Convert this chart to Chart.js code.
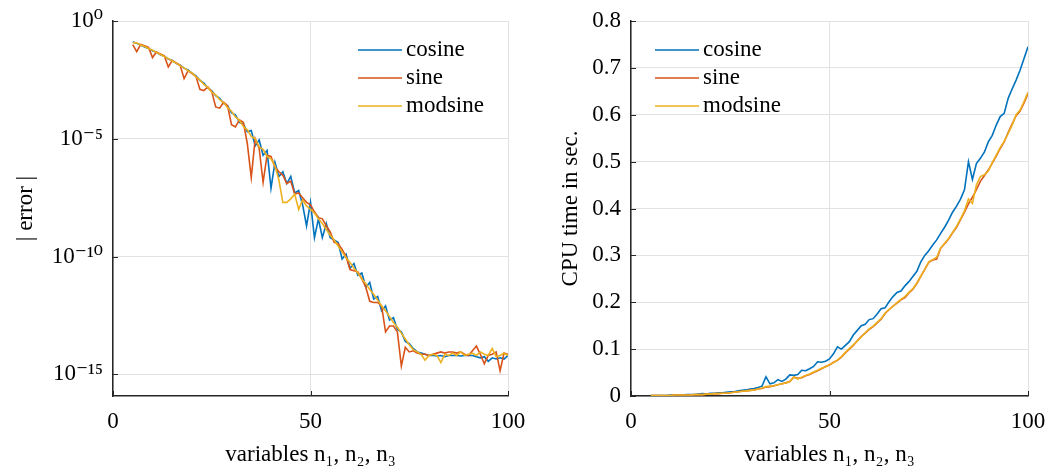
<!DOCTYPE html>
<html>
<head>
<meta charset="utf-8">
<script src="https://cdn.jsdelivr.net/npm/chart.js@4.4.1/dist/chart.umd.min.js"></script>
<style>
  body { margin: 0; background: #fff; }
  .panel { position: absolute; top: 0; width: 525px; height: 473px; }
  #left { left: 0; }
  #right { left: 525px; }
</style>
</head>
<body>
<div class="panel" id="left"><canvas id="errChart" width="525" height="473"></canvas></div>
<div class="panel" id="right"><canvas id="cpuChart" width="525" height="473"></canvas></div>
<script>
// number of variables (x axis of both plots)
const variables = [
  5, 6, 7, 8, 9, 10, 11, 12, 13, 14,
  15, 16, 17, 18, 19, 20, 21, 22, 23, 24,
  25, 26, 27, 28, 29, 30, 31, 32, 33, 34,
  35, 36, 37, 38, 39, 40, 41, 42, 43, 44,
  45, 46, 47, 48, 49, 50, 51, 52, 53, 54,
  55, 56, 57, 58, 59, 60, 61, 62, 63, 64,
  65, 66, 67, 68, 69, 70, 71, 72, 73, 74,
  75, 76, 77, 78, 79, 80, 81, 82, 83, 84,
  85, 86, 87, 88, 89, 90, 91, 92, 93, 94,
  95, 96, 97, 98, 99, 100
];
const seriesNames = ["cosine", "sine", "modsine"];

const errCosineExp = [
  -0.88, -0.95, -1.02, -1.10, -1.17, -1.26, -1.33, -1.43, -1.50, -1.61,
  -1.68, -1.80, -1.88, -2.00, -2.08, -2.22, -2.33, -2.52, -2.64, -2.84,
  -2.96, -3.17, -3.28, -3.50, -3.60, -3.90, -3.98, -4.30, -4.38, -4.70,
  -4.65, -5.30, -5.05, -5.70, -5.50, -7.10, -6.00, -6.60, -6.40, -6.90,
  -6.60, -7.30, -7.20, -7.80, -8.70, -7.70, -9.20, -8.40, -9.20, -8.60,
  -9.20, -9.30, -9.40, -10.10, -9.90, -10.50, -10.30, -10.80, -10.70, -11.30,
  -11.10, -11.80, -11.70, -12.30, -12.10, -12.70, -12.60, -13.10, -13.20, -13.60,
  -13.70, -13.90, -14.05, -14.10, -14.15, -14.20, -14.20, -14.22, -14.20, -14.25,
  -14.20, -14.20, -14.20, -14.22, -14.20, -14.20, -14.20, -14.25, -14.30, -14.25,
  -14.45, -14.30, -14.35, -14.30, -14.35, -14.20
];
const errSineExp = [
  -1.00, -1.30, -1.00, -1.05, -1.12, -1.55, -1.32, -1.40, -1.48, -1.95,
  -1.68, -1.78, -1.88, -2.45, -2.12, -2.22, -2.35, -2.90, -2.95, -2.80,
  -3.00, -3.65, -3.70, -3.45, -3.60, -4.40, -4.50, -4.20, -4.30, -5.20,
  -6.65, -5.00, -5.40, -6.85, -5.70, -5.75, -6.20, -6.40, -6.55, -6.90,
  -6.80, -7.35, -7.30, -7.50, -7.70, -7.80, -8.10, -8.35, -8.40, -8.70,
  -8.95, -9.40, -9.45, -9.70, -10.00, -10.55, -10.60, -10.65, -10.95, -11.30,
  -11.90, -11.95, -11.95, -12.10, -13.20, -12.95, -12.95, -13.20, -14.65, -13.85,
  -14.05, -14.00, -14.10, -14.15, -14.15, -14.20, -14.15, -14.10, -14.05, -14.10,
  -14.05, -14.05, -14.10, -14.05, -14.15, -14.20, -14.00, -13.80, -14.15, -14.55,
  -14.20, -14.15, -14.05, -14.85, -14.10, -14.15
];
const errModsineExp = [
  -0.92, -0.93, -1.02, -1.08, -1.17, -1.24, -1.33, -1.42, -1.51, -1.60,
  -1.70, -1.79, -1.90, -1.99, -2.11, -2.20, -2.37, -2.50, -2.69, -2.82,
  -3.02, -3.14, -3.34, -3.46, -3.68, -3.83, -4.07, -4.22, -4.48, -4.62,
  -4.90, -5.00, -5.35, -5.45, -5.75, -5.85, -6.15, -6.75, -7.70, -7.70,
  -7.55, -7.35, -8.00, -7.60, -7.85, -8.00, -8.15, -8.40, -8.60, -8.85,
  -9.10, -9.30, -9.55, -9.80, -10.05, -10.25, -10.50, -10.70, -10.95, -11.15,
  -11.40, -11.60, -11.85, -12.10, -12.30, -12.55, -12.80, -13.00, -13.25, -13.50,
  -13.75, -13.95, -14.05, -14.15, -14.40, -14.20, -14.15, -14.20, -14.50, -14.15,
  -14.20, -14.10, -14.20, -14.05, -14.20, -14.15, -14.10, -14.20, -14.05, -14.15,
  -14.20, -13.90, -14.25, -14.20, -14.10, -14.20
];

// CPU time in seconds
const cpuCosine = [
  0.001, 0.001, 0.001, 0.001, 0.001, 0.002, 0.002, 0.002, 0.002, 0.003,
  0.003, 0.003, 0.004, 0.005, 0.004, 0.006, 0.006, 0.007, 0.007, 0.008,
  0.009, 0.009, 0.011, 0.012, 0.013, 0.015, 0.016, 0.018, 0.021, 0.041,
  0.026, 0.028, 0.035, 0.031, 0.036, 0.045, 0.044, 0.046, 0.055, 0.054,
  0.058, 0.063, 0.073, 0.072, 0.074, 0.079, 0.090, 0.105, 0.100, 0.108,
  0.116, 0.130, 0.140, 0.150, 0.153, 0.163, 0.165, 0.175, 0.186, 0.188,
  0.201, 0.212, 0.221, 0.224, 0.235, 0.244, 0.255, 0.266, 0.286, 0.300,
  0.310, 0.322, 0.333, 0.347, 0.360, 0.375, 0.392, 0.405, 0.420, 0.440,
  0.500, 0.462, 0.496, 0.507, 0.520, 0.542, 0.556, 0.578, 0.596, 0.603,
  0.635, 0.655, 0.674, 0.695, 0.720, 0.745
];
const cpuSine = [
  0.001, 0.001, 0.001, 0.001, 0.001, 0.001, 0.002, 0.002, 0.002, 0.002,
  0.002, 0.003, 0.003, 0.003, 0.004, 0.004, 0.005, 0.005, 0.006, 0.006,
  0.007, 0.008, 0.009, 0.010, 0.011, 0.012, 0.013, 0.015, 0.016, 0.019,
  0.020, 0.022, 0.024, 0.026, 0.028, 0.031, 0.040, 0.038, 0.039, 0.043,
  0.046, 0.050, 0.054, 0.058, 0.063, 0.066, 0.072, 0.076, 0.083, 0.092,
  0.100, 0.108, 0.118, 0.127, 0.134, 0.142, 0.148, 0.156, 0.164, 0.176,
  0.184, 0.192, 0.198, 0.205, 0.210, 0.220, 0.228, 0.240, 0.255, 0.270,
  0.285, 0.290, 0.292, 0.315, 0.325, 0.335, 0.348, 0.360, 0.376, 0.392,
  0.410, 0.424, 0.440, 0.458, 0.470, 0.482, 0.497, 0.512, 0.528, 0.542,
  0.562, 0.580, 0.598, 0.608, 0.625, 0.645
];
const cpuModsine = [
  0.001, 0.001, 0.001, 0.001, 0.001, 0.001, 0.002, 0.002, 0.002, 0.002,
  0.002, 0.003, 0.003, 0.003, 0.004, 0.004, 0.005, 0.005, 0.006, 0.006,
  0.007, 0.008, 0.009, 0.010, 0.011, 0.012, 0.013, 0.015, 0.017, 0.020,
  0.021, 0.022, 0.024, 0.026, 0.028, 0.031, 0.041, 0.036, 0.040, 0.044,
  0.047, 0.051, 0.055, 0.059, 0.062, 0.067, 0.071, 0.077, 0.084, 0.093,
  0.101, 0.109, 0.117, 0.126, 0.135, 0.143, 0.149, 0.157, 0.165, 0.177,
  0.185, 0.191, 0.199, 0.206, 0.212, 0.221, 0.229, 0.241, 0.256, 0.270,
  0.286, 0.291, 0.296, 0.316, 0.326, 0.336, 0.349, 0.362, 0.378, 0.395,
  0.420, 0.411, 0.450, 0.468, 0.472, 0.480, 0.498, 0.514, 0.530, 0.543,
  0.560, 0.578, 0.600, 0.610, 0.628, 0.648
];

// tick positions
const xTicks = [0, 50, 100];
const errTicks = [1e-15, 1e-10, 1e-5, 1];
const errTickLabels = ["10\u207B\u00B9\u2075", "10\u207B\u00B9\u2070", "10\u207B\u2075", "10\u2070"];
const cpuTicks = [0, 0.1, 0.2, 0.3, 0.4, 0.5, 0.6, 0.7, 0.8];

const colors = ["#0072BD", "#D95319", "#EDB120"];
const FONT = "'Liberation Serif', 'DejaVu Serif', serif";
const AXIS = "#262626";
const GRID = "#e2e2e2";

// small tick marks pointing into the plot, like matlab
const innerTicks = {
  id: "innerTicks",
  afterDraw(chart) {
    const { ctx, chartArea, scales } = chart;
    ctx.save();
    ctx.strokeStyle = AXIS;
    ctx.lineWidth = 1;
    ctx.beginPath();
    scales.y.ticks.forEach(t => {
      const py = Math.round(scales.y.getPixelForValue(t.value)) + 0.5;
      ctx.moveTo(chartArea.left, py);
      ctx.lineTo(chartArea.left + 5, py);
    });
    scales.x.ticks.forEach(t => {
      const px = Math.round(scales.x.getPixelForValue(t.value)) + 0.5;
      ctx.moveTo(px, chartArea.bottom);
      ctx.lineTo(px, chartArea.bottom - 5);
    });
    ctx.stroke();
    ctx.restore();
  }
};

// legend drawn inside the axes
const insideLegend = {
  id: "insideLegend",
  afterDraw(chart, args, opts) {
    const { ctx, chartArea } = chart;
    ctx.save();
    ctx.font = "23px " + FONT;
    ctx.textBaseline = "middle";
    chart.data.datasets.forEach((ds, i) => {
      const x0 = chartArea.left + opts.left;
      const y0 = chartArea.top + opts.top + i * 28;
      ctx.strokeStyle = ds.borderColor;
      ctx.lineWidth = 1.6;
      ctx.beginPath();
      ctx.moveTo(x0, y0);
      ctx.lineTo(x0 + 44, y0);
      ctx.stroke();
      ctx.fillStyle = "#000";
      ctx.fillText(ds.label, x0 + 48, y0);
    });
    ctx.restore();
  }
};

function makeDatasets(series) {
  return series.map((vals, i) => ({
    label: seriesNames[i],
    data: vals,
    borderColor: colors[i],
    borderWidth: 1.6,
    pointRadius: 0,
    tension: 0,
    fill: false,
    order: 3 - i
  }));
}

function xScale() {
  return {
    type: "linear",
    min: 0,
    max: 100,
    afterBuildTicks: s => { s.ticks = xTicks.map(v => ({ value: v })); },
    afterFit: s => { s.height = 77; s.paddingLeft = 0; s.paddingRight = 0; },
    grid: { color: GRID, drawTicks: false },
    border: { color: AXIS, width: 1.5 },
    ticks: { color: "#000", font: { family: FONT, size: 23 }, padding: 12, maxRotation: 0 },
    title: {
      display: true,
      text: "variables n\u2081, n\u2082, n\u2083",
      color: "#000",
      font: { family: FONT, size: 23 },
      padding: { top: 4, bottom: 4 }
    }
  };
}

new Chart(document.getElementById("errChart"), {
  type: "line",
  data: {
    labels: variables,
    datasets: makeDatasets([errCosineExp, errSineExp, errModsineExp].map(a => a.map(e => 10 ** e)))
  },
  options: {
    responsive: false,
    animation: false,
    layout: { padding: { left: 0, right: 17, top: 21, bottom: 0 } },
    plugins: {
      legend: { display: false },
      tooltip: { enabled: false },
      insideLegend: { left: 245, top: 29 }
    },
    scales: {
      x: xScale(),
      y: {
        type: "logarithmic",
        min: 1.2e-16,
        max: 1,
        afterBuildTicks: s => { s.ticks = errTicks.map(v => ({ value: v })); },
        afterFit: s => { s.width = 113; s.paddingTop = 0; s.paddingBottom = 0; },
        grid: { color: GRID, drawTicks: false },
        border: { color: AXIS, width: 1.5 },
        ticks: {
          color: "#000",
          font: { family: FONT, size: 23 },
          padding: 10,
          callback: (v) => errTickLabels[errTicks.indexOf(v)]
        },
        title: {
          display: true,
          text: "| error |",
          color: "#000",
          font: { family: FONT, size: 23 },
          padding: { top: 12, bottom: 12 }
        }
      }
    }
  },
  plugins: [innerTicks, insideLegend]
});

new Chart(document.getElementById("cpuChart"), {
  type: "line",
  data: {
    labels: variables,
    datasets: makeDatasets([cpuCosine, cpuSine, cpuModsine])
  },
  options: {
    responsive: false,
    animation: false,
    layout: { padding: { left: 0, right: 22, top: 21, bottom: 0 } },
    plugins: {
      legend: { display: false },
      tooltip: { enabled: false },
      insideLegend: { left: 24, top: 29 }
    },
    scales: {
      x: xScale(),
      y: {
        type: "linear",
        min: 0,
        max: 0.8,
        afterBuildTicks: s => { s.ticks = cpuTicks.map(v => ({ value: v })); },
        afterFit: s => { s.width = 106; s.paddingTop = 0; s.paddingBottom = 0; },
        grid: { color: GRID, drawTicks: false },
        border: { color: AXIS, width: 1.5 },
        ticks: {
          color: "#000",
          font: { family: FONT, size: 23 },
          padding: 10,
          callback: (v) => (v === 0 ? "0" : v.toFixed(1))
        },
        title: {
          display: true,
          text: "CPU time in sec.",
          color: "#000",
          font: { family: FONT, size: 23 },
          padding: { top: 32, bottom: 32 }
        }
      }
    }
  },
  plugins: [innerTicks, insideLegend]
});
</script>
</body>
</html>
